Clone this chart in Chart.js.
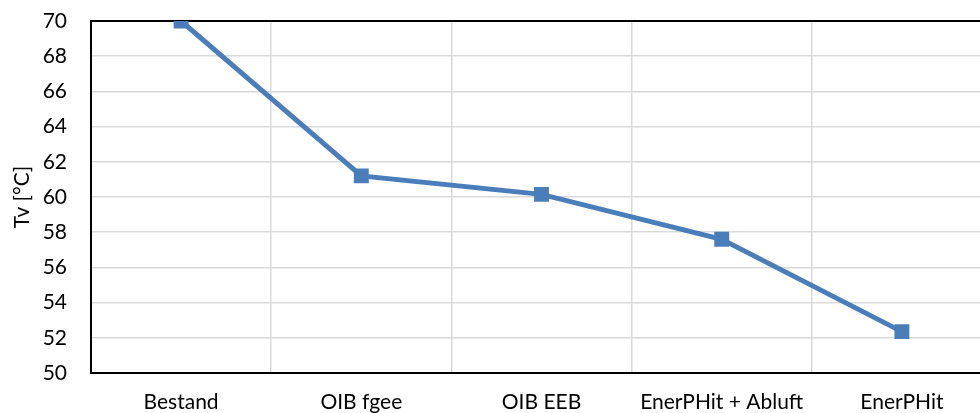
<!DOCTYPE html>
<html>
<head>
<meta charset="utf-8">
<script src="https://cdn.jsdelivr.net/npm/chart.js@4/dist/chart.umd.min.js"></script>
<style>
  html, body { margin: 0; padding: 0; background: #fff; overflow: hidden; }
  #wrap { width: 1004px; height: 413px; }
</style>
</head>
<body>
<div id="wrap"><canvas id="tvChart"></canvas></div>
<script>
// Data
const categories = ['Bestand', 'OIB fgee', 'OIB EEB', 'EnerPHit + Abluft', 'EnerPHit'];
const tvValues = [70, 61.2, 60.15, 57.6, 52.35];
const yMin = 50;
const yMax = 70;
const yStep = 2;

const lineColor = '#4A7EBB';
const gridColor = '#D9D9D9';
const fontFamily = 'Lato, "Open Sans", sans-serif';

document.addEventListener('DOMContentLoaded', function() {
    const ctx = document.getElementById('tvChart').getContext('2d');
    new Chart(ctx, {
        type: 'line',
        data: {
            labels: categories,
            datasets: [{
                label: 'Tv',
                data: tvValues,
                borderColor: lineColor,
                backgroundColor: lineColor,
                borderWidth: 5,
                pointStyle: 'rect',
                pointRadius: 7,
                pointHoverRadius: 7,
                tension: 0,
                fill: false
            }]
        },
        options: {
            responsive: true,
            maintainAspectRatio: false,
            animation: false,
            layout: {
                padding: { top: 21, right: 1, bottom: 0, left: 0 }
            },
            plugins: {
                legend: { display: false },
                tooltip: { enabled: false }
            },
            scales: {
                x: {
                    offset: true,
                    grid: {
                        offset: true,
                        color: gridColor,
                        lineWidth: 1.5,
                        drawTicks: false
                    },
                    border: { color: '#000', width: 2 },
                    ticks: {
                        color: '#000',
                        padding: 17,
                        maxRotation: 0,
                        font: { family: fontFamily, size: 21 }
                    },
                    afterFit: function(scale) {
                        scale.height = 40;
                        scale.paddingLeft = 0;
                        scale.paddingRight = 0;
                    }
                },
                y: {
                    min: yMin,
                    max: yMax,
                    grid: {
                        color: function(c) { return c.tick && c.tick.value === yMax ? '#000' : gridColor; },
                        lineWidth: function(c) { return c.tick && c.tick.value === yMax ? 2 : 1.5; },
                        drawTicks: false
                    },
                    border: { color: '#000', width: 2 },
                    ticks: {
                        stepSize: yStep,
                        color: '#000',
                        padding: 24,
                        font: { family: fontFamily, size: 21 }
                    },
                    title: {
                        display: true,
                        text: 'Tv [°C]',
                        color: '#000',
                        padding: { top: 10, bottom: 0 },
                        font: { family: fontFamily, size: 21 }
                    },
                    afterFit: function(scale) {
                        scale.width = 91;
                        scale.paddingTop = 0;
                        scale.paddingBottom = 0;
                    }
                }
            }
        }
    });
});
</script>
</body>
</html>
